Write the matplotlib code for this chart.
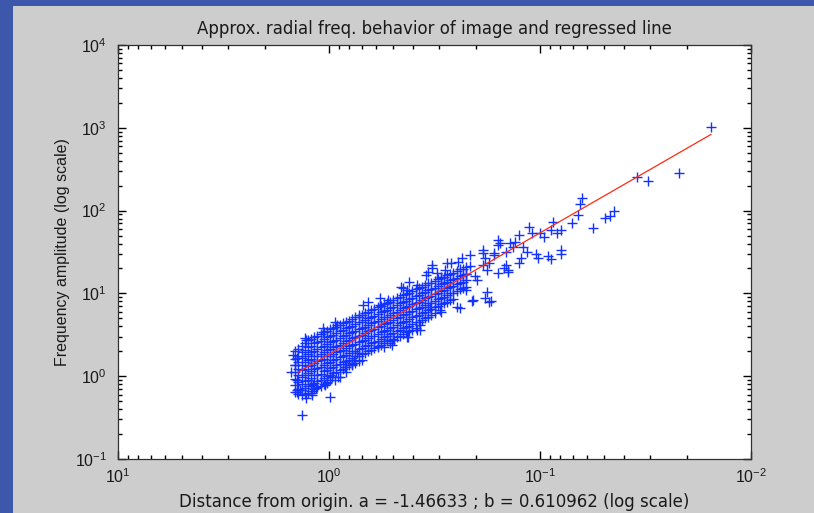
import numpy as np
import matplotlib
matplotlib.use("Agg")
import matplotlib.pyplot as plt
from matplotlib.patches import Rectangle
from matplotlib.ticker import FuncFormatter

plt.rcParams['font.family'] = ['Liberation Sans', 'DejaVu Sans']
plt.rcParams['mathtext.fontset'] = 'custom'
plt.rcParams['mathtext.rm'] = 'Liberation Sans'
plt.rcParams['mathtext.it'] = 'Liberation Sans'

# values, in log10 units (both axes are log scale)
# dense cloud, one column per distance
band_log_dist = [0.16, 0.13, 0.10, 0.07, 0.04, 0.01, -0.02, -0.05, -0.08, -0.11,
                 -0.14, -0.17, -0.20, -0.23, -0.26, -0.29, -0.32, -0.35, -0.38,
                 -0.41, -0.44, -0.47, -0.50, -0.53, -0.56, -0.59, -0.62, -0.65]
band_log_amp = [
    [0.30, 0.21, 0.13, 0.05, -0.03, -0.11, -0.19],
    [0.37, 0.29, 0.22, 0.14, 0.07, -0.01, -0.09, -0.17, -0.23],
    [0.44, 0.35, 0.27, 0.19, 0.12, 0.04, -0.04, -0.12, -0.20],
    [0.47, 0.40, 0.31, 0.24, 0.16, 0.09, 0.01, -0.08, -0.15],
    [0.51, 0.43, 0.35, 0.27, 0.19, 0.11, 0.03, -0.05, -0.12],
    [0.55, 0.47, 0.39, 0.32, 0.24, 0.16, 0.08, 0.00, -0.07],
    [0.58, 0.50, 0.43, 0.35, 0.27, 0.19, 0.11, 0.04],
    [0.62, 0.54, 0.46, 0.38, 0.30, 0.23, 0.15, 0.07],
    [0.66, 0.58, 0.50, 0.42, 0.34, 0.26, 0.18, 0.11],
    [0.69, 0.61, 0.53, 0.46, 0.38, 0.30, 0.22, 0.15],
    [0.72, 0.65, 0.57, 0.49, 0.41, 0.33, 0.25, 0.18],
    [0.76, 0.68, 0.60, 0.52, 0.44, 0.36, 0.28],
    [0.80, 0.72, 0.64, 0.56, 0.48, 0.40, 0.32],
    [0.83, 0.75, 0.67, 0.59, 0.51, 0.43, 0.36],
    [0.87, 0.79, 0.71, 0.63, 0.55, 0.47, 0.40],
    [0.90, 0.82, 0.74, 0.66, 0.58, 0.51, 0.44],
    [0.94, 0.86, 0.78, 0.70, 0.62, 0.54, 0.47],
    [0.98, 0.90, 0.82, 0.74, 0.66, 0.58, 0.51],
    [1.01, 0.93, 0.85, 0.77, 0.69, 0.61, 0.55],
    [1.05, 0.97, 0.89, 0.81, 0.73, 0.65, 0.58],
    [1.08, 1.00, 0.92, 0.84, 0.76, 0.68],
    [1.12, 1.04, 0.96, 0.88, 0.80, 0.72],
    [1.15, 1.07, 0.99, 0.91, 0.83, 0.76],
    [1.19, 1.11, 1.03, 0.95, 0.87],
    [1.22, 1.14, 1.06, 0.98, 0.90],
    [1.25, 1.17, 1.09, 1.01, 0.93],
    [1.29, 1.21, 1.13, 1.05],
    [1.32, 1.24, 1.16, 1.08],
]

# second set of columns in between the first ones
band2_log_dist = [0.145, 0.115, 0.085, 0.055, 0.025, -0.005, -0.035, -0.065, -0.095,
                  -0.125, -0.155, -0.185, -0.215, -0.245, -0.275, -0.305, -0.335,
                  -0.365, -0.395, -0.425, -0.455, -0.485, -0.515, -0.545, -0.575,
                  -0.605, -0.635]
band2_log_amp = [
    [0.33, 0.25, 0.17, 0.09, 0.01, -0.07, -0.15, -0.22],
    [0.40, 0.32, 0.24, 0.17, 0.09, 0.02, -0.06, -0.14, -0.21],
    [0.45, 0.37, 0.29, 0.21, 0.14, 0.06, -0.02, -0.10, -0.18],
    [0.49, 0.41, 0.33, 0.25, 0.18, 0.10, 0.02, -0.06, -0.13],
    [0.53, 0.45, 0.37, 0.29, 0.21, 0.13, 0.06, -0.02, -0.10],
    [0.57, 0.49, 0.41, 0.33, 0.25, 0.17, 0.10, 0.02, -0.05],
    [0.60, 0.52, 0.44, 0.36, 0.29, 0.21, 0.13, 0.05],
    [0.64, 0.56, 0.48, 0.40, 0.32, 0.24, 0.17, 0.09],
    [0.67, 0.60, 0.52, 0.44, 0.36, 0.28, 0.20, 0.13],
    [0.71, 0.63, 0.55, 0.47, 0.39, 0.31, 0.24, 0.16],
    [0.74, 0.66, 0.58, 0.50, 0.42, 0.34, 0.27, 0.20],
    [0.78, 0.70, 0.62, 0.54, 0.46, 0.38, 0.30],
    [0.81, 0.73, 0.65, 0.57, 0.49, 0.41, 0.34],
    [0.85, 0.77, 0.69, 0.61, 0.53, 0.45, 0.38],
    [0.88, 0.80, 0.72, 0.64, 0.56, 0.48, 0.42],
    [0.92, 0.84, 0.76, 0.68, 0.60, 0.52, 0.45],
    [0.96, 0.88, 0.80, 0.72, 0.64, 0.56, 0.49],
    [0.99, 0.91, 0.83, 0.75, 0.67, 0.59, 0.53],
    [1.03, 0.95, 0.87, 0.79, 0.71, 0.63, 0.56],
    [1.06, 0.98, 0.90, 0.82, 0.74, 0.66],
    [1.10, 1.02, 0.94, 0.86, 0.78, 0.70],
    [1.13, 1.05, 0.97, 0.89, 0.81, 0.74],
    [1.17, 1.09, 1.01, 0.93, 0.85],
    [1.20, 1.12, 1.04, 0.96, 0.88],
    [1.24, 1.16, 1.08, 1.00, 0.92],
    [1.27, 1.19, 1.11, 1.03],
    [1.30, 1.22, 1.14, 1.06],
]

# scattered points around the cloud
edge_log_dist = [0.13, -0.005, 0.08, 0.15, 0.06, -0.03, -0.11, -0.12, -0.37, -0.29,
                 -0.31, -0.43, -0.26, 0.11, 0.03, -0.04, -0.14, -0.24, 0.15, 0.16,
                 0.15, 0.15, 0.18, 0.17, 0.11, 0.02, -0.05, -0.08,
                 0.114, 0.028, -0.028, -0.161, -0.185, -0.242, -0.280, -0.351, -0.370,
                 -0.417, -0.469, -0.488, -0.559, -0.512,
                 0.137, 0.081, 0.076, 0.009, -0.014, -0.043, -0.076, -0.109, -0.133,
                 -0.232, -0.299, -0.374, -0.417, -0.431, -0.526, -0.607, -0.682]
edge_log_amp = [-0.47, -0.25, -0.23, -0.19, -0.14, -0.05, 0.14, 0.20, 0.47, 0.40,
                0.44, 0.56, 0.35, 0.44, 0.53, 0.62, 0.74, 0.86, 0.22, 0.135,
                -0.05, -0.17, 0.05, 0.26, -0.26, -0.11, -0.01, 0.05,
                0.461, 0.582, 0.655, 0.860, 0.896, 0.944, 0.920, 1.065, 1.041,
                1.101, 1.258, 1.307, 1.367, 1.246,
                -0.167, -0.203, -0.106, -0.082, -0.010, -0.010, 0.111, 0.159, 0.280,
                0.353, 0.377, 0.473, 0.558, 0.618, 0.800, 0.836, 0.920]

mid_log_dist = [-0.62, -0.68, -0.75, -0.76, -0.80, -0.73, -0.81, -0.87, -0.84, -0.53,
                -0.48, -0.65, -0.70, -0.75, -0.78, -0.49, -0.55, -0.53, -0.58, -0.46,
                -0.38, -0.34]
mid_log_amp = [0.82, 0.91, 1.02, 0.90, 1.25, 1.49, 1.61, 1.56, 1.34, 0.78,
               0.84, 1.04, 1.16, 1.28, 1.49, 1.34, 1.28, 1.20, 1.37, 1.22,
               1.14, 1.08]

tail_log_dist = [-1.20, -1.19, -1.18, -1.15, -1.25, -1.31, -1.33, -1.35, -1.06, -1.05,
                 -1.10, -1.08, -1.10, -1.04, -0.98, -0.94, -0.95, -0.96, -1.00, -1.02,
                 -0.90, -0.88, -0.91, -0.80, -0.80, -0.84, -0.85, -0.73, -0.73, -0.76,
                 -0.83, -0.86, -0.92, -0.99, -1.05, -1.10, -0.90, -0.85, -0.74, -0.77,
                 -0.67, -0.69, -0.65, -0.74, -0.78, -0.63, -0.61, -0.67,
                 -1.81, -1.46, -1.51, -1.66]
tail_log_amp = [2.15, 2.08, 1.95, 1.85, 1.79, 1.91, 1.94, 2.00, 1.86, 1.77,
                1.77, 1.73, 1.52, 1.45, 1.48, 1.50, 1.80, 1.73, 1.73, 1.68,
                1.71, 1.62, 1.43, 1.65, 1.59, 1.50, 1.28, 1.52, 1.34, 1.37,
                1.31, 1.61, 1.56, 1.43, 1.42, 1.48, 1.37, 1.26, 0.94, 0.91,
                1.33, 1.21, 1.23, 1.43, 1.46, 1.43, 1.38, 1.46,
                3.01, 2.41, 2.36, 2.45]

# regressed line end points
line_dist = [1.40, 0.0155]
line_amp = [1.12, 830]

xlabel = "Distance from origin. a = -1.46633 ; b = 0.610962 (log scale)"
ylabel = "Frequency amplitude (log scale)"
title = "Approx. radial freq. behavior of image and regressed line"

log_dist, log_amp = [], []
for cols, vals in ((band_log_dist, band_log_amp), (band2_log_dist, band2_log_amp)):
    for d, col in zip(cols, vals):
        log_dist += [d] * len(col)
        log_amp += col
log_dist += edge_log_dist + mid_log_dist + tail_log_dist
log_amp += edge_log_amp + mid_log_amp + tail_log_amp
dist = 10 ** np.array(log_dist)
amp = 10 ** np.array(log_amp)

fig = plt.figure(figsize=(8.14, 5.13), dpi=100, facecolor='#3d58aa')
fig.patches.append(Rectangle((13 / 814, 0), 1, 1 - 6 / 513, transform=fig.transFigure,
                             facecolor='#cdcdcd', edgecolor='none', zorder=-10))
ax = fig.add_axes([118 / 814, 54 / 513, 633 / 814, 414 / 513])
ax.set_facecolor('white')

ax.plot(dist, amp, '+', color='#1232ff', ms=7, mew=1.0, ls='none')
ax.plot(line_dist, line_amp, color='#ff2a10', lw=0.9)

ax.set_xscale('log')
ax.set_yscale('log')

# decade ticks with 2..9 minor ticks, like the MATLAB axes
x_major = [10.0, 1.0, 0.1, 0.01]
y_major = [0.1, 1.0, 10.0, 100.0, 1000.0, 10000.0]
x_minor = [k * m for m in x_major[1:] for k in range(2, 10)]
y_minor = [k * m for m in y_major[:-1] for k in range(2, 10)]
ax.set_xticks(x_major)
ax.set_xticks(x_minor, minor=True)
ax.set_yticks(y_major)
ax.set_yticks(y_minor, minor=True)
fmt = FuncFormatter(lambda v, p: r'$\mathregular{10^{%d}}$' % round(np.log10(v)))
ax.xaxis.set_major_formatter(fmt)
ax.yaxis.set_major_formatter(fmt)
ax.xaxis.set_minor_formatter(FuncFormatter(lambda v, p: ''))
ax.yaxis.set_minor_formatter(FuncFormatter(lambda v, p: ''))
ax.set_xlim(10, 0.01)
ax.set_ylim(0.1, 1e4)

ax.tick_params(which='both', direction='in', top=True, right=True,
               color='black', labelsize=11.5, labelcolor='#1a1a1a')
ax.tick_params(which='major', length=5.5, width=1.0)
ax.tick_params(which='minor', length=3, width=1.0)
ax.tick_params(axis='x', pad=6)
ax.tick_params(axis='y', pad=8)
for s in ax.spines.values():
    s.set_color('#303030')
    s.set_linewidth(0.9)

ax.set_title(title, fontsize=12, family='DejaVu Sans', color='#1a1a1a', pad=8)
ax.set_xlabel(xlabel, fontsize=12, family='DejaVu Sans', color='#1a1a1a', labelpad=5)
ax.set_ylabel(ylabel, fontsize=11.5, color='#1a1a1a', labelpad=3)

fig.savefig('out.png', dpi=100, facecolor=fig.get_facecolor())
